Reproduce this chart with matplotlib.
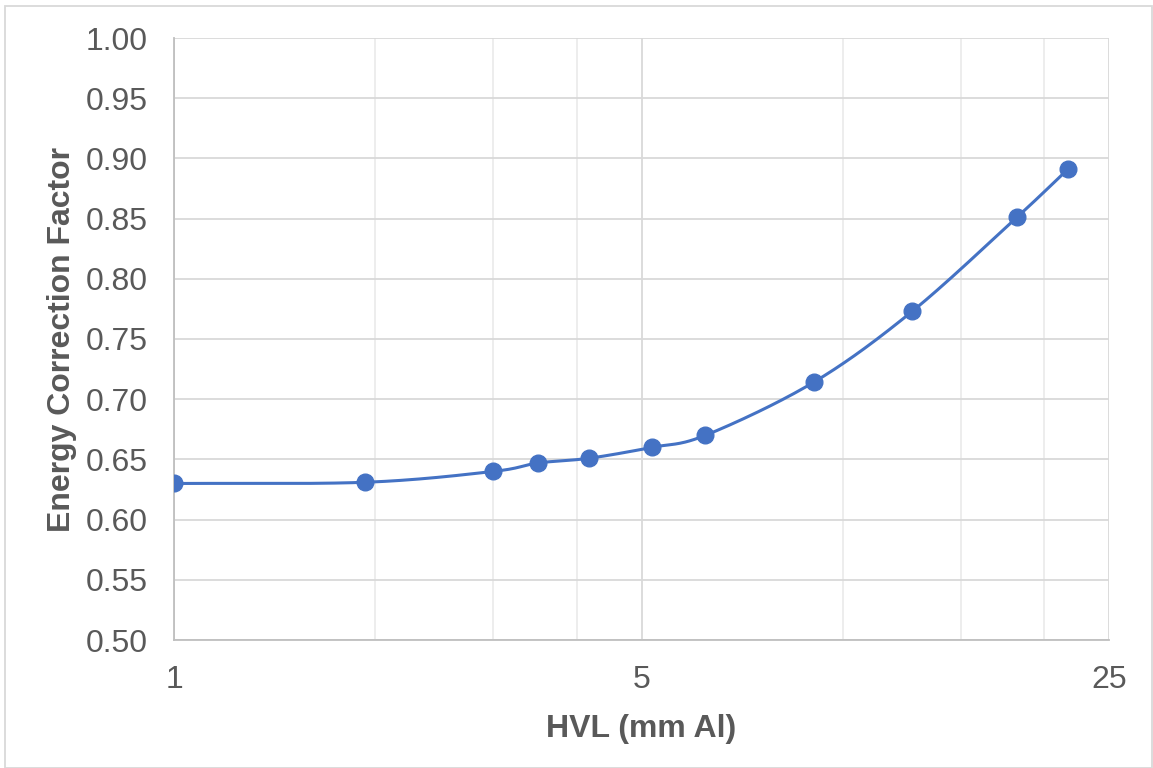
import numpy as np
import matplotlib
matplotlib.use("Agg")
import matplotlib.pyplot as plt
from matplotlib.patches import Rectangle
from matplotlib.ticker import FixedLocator, NullFormatter

hvl = [1.0, 1.93, 3.0, 3.5, 4.18, 5.18, 6.23, 9.04, 12.7, 18.2, 21.7]
ecf = [0.630, 0.631, 0.640, 0.647, 0.651, 0.660, 0.670, 0.714, 0.773, 0.851, 0.891]

x_major = [1, 5, 25]
x_minor = [2, 3, 4, 10, 15, 20]
y_ticks = [0.50, 0.55, 0.60, 0.65, 0.70, 0.75, 0.80, 0.85, 0.90, 0.95, 1.00]

plt.rcParams['font.family'] = ['Liberation Sans', 'DejaVu Sans']
gray = '#595959'

fig = plt.figure(figsize=(11.53, 7.68), dpi=100)
ax = fig.add_axes([174/1153, 1-640/768, (1109-174)/1153, (640-38)/768])

ax.set_xscale('log')
ax.set_xlim(1, 25)
ax.set_ylim(0.5, 1.0)

# Catmull-Rom smoothing in log-x space (Excel-like smoothed line)
lx = np.log10(hvl)
yy = np.array(ecf)
sx = 935 / (np.log10(25))
sy = 602 / 0.5
P = np.column_stack([lx * sx, yy * sy])
pts = [P[0] - (P[1]-P[0])] + list(P) + [P[-1] + (P[-1]-P[-2])]
pts = np.array(pts)
curve = []
for i in range(1, len(pts) - 2):
    p0, p1, p2, p3 = pts[i-1], pts[i], pts[i+1], pts[i+2]
    c1 = p1 + (p2 - p0) / 6
    c2 = p2 - (p3 - p1) / 6
    t = np.linspace(0, 1, 40)[:, None]
    b = (1-t)**3*p1 + 3*(1-t)**2*t*c1 + 3*(1-t)*t**2*c2 + t**3*p2
    curve.append(b)
curve = np.vstack(curve)
cx = 10 ** (curve[:, 0] / sx)
cy = curve[:, 1] / sy

ax.plot(cx, cy, color='#4472C4', lw=2.2, zorder=3, solid_capstyle='round')
ax.plot(hvl, ecf, 'o', color='#4472C4', ms=12, zorder=4)

ax.xaxis.set_major_locator(FixedLocator(x_major))
ax.xaxis.set_minor_locator(FixedLocator(x_minor))
ax.xaxis.set_minor_formatter(NullFormatter())
ax.set_xticklabels([str(v) for v in x_major])
ax.set_yticks(y_ticks)
ax.set_yticklabels([f"{v:.2f}" for v in y_ticks])

ax.grid(which='major', color='#d9d9d9', lw=1.3, zorder=0)
ax.grid(which='minor', axis='x', color='#ececec', lw=1.3, zorder=0)
ax.set_axisbelow(True)

for s in ['top', 'right']:
    ax.spines[s].set_visible(False)
for s in ['left', 'bottom']:
    ax.spines[s].set_color('#bfbfbf')
    ax.spines[s].set_linewidth(1.3)

ax.tick_params(which='both', length=0, labelsize=23, colors=gray)
ax.tick_params(axis='x', pad=18)
ax.tick_params(axis='y', pad=19)

ax.set_xlabel('HVL (mm Al)', fontsize=23, fontweight='bold', color=gray, labelpad=14)
ax.set_ylabel('Energy Correction Factor', fontsize=23, fontweight='bold', color=gray, labelpad=6)

fig.patches.append(Rectangle((5/1153, 0.5/768), 1-6/1153, 1-6/768, transform=fig.transFigure,
                             fill=False, edgecolor='#d9d9d9', lw=1.3))

fig.savefig('out.png', dpi=100)
